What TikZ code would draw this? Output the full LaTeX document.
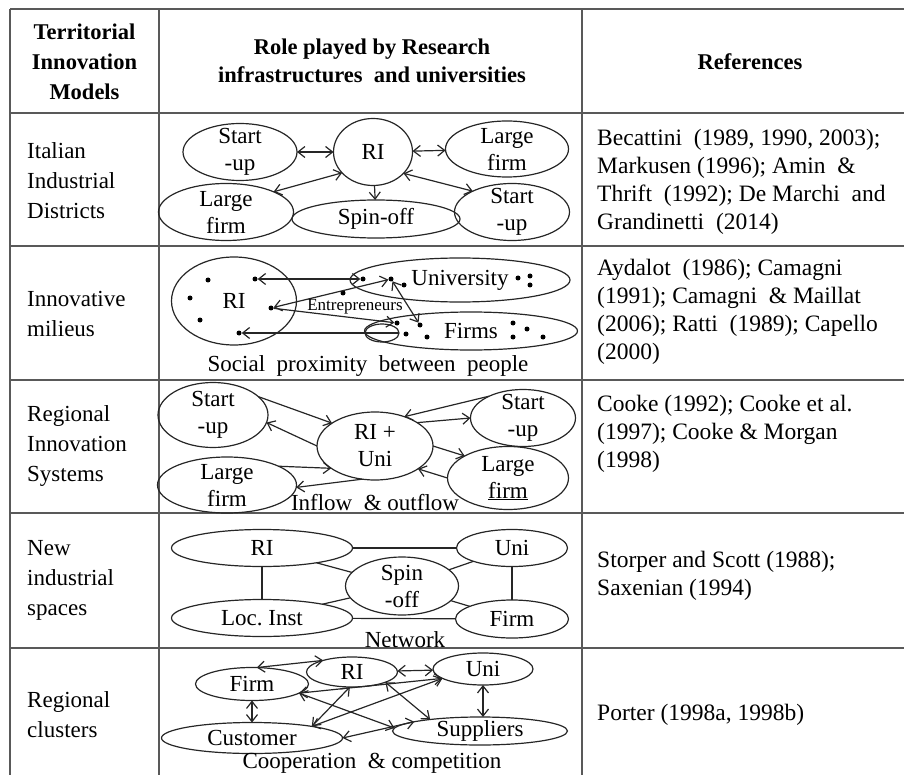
\documentclass[tikz,border=0pt]{standalone}
\usepackage{fontspec}
\setmainfont{Liberation Serif}
\usetikzlibrary{shapes.geometric,arrows.meta}

\tikzset{
  tab/.style={draw=black!65, line width=1.8pt},
  ell/.style={draw=black!85, line width=1.2pt, ellipse, inner sep=0pt, outer sep=0pt},
  lbl/.style={font=\fontsize{23}{27}\selectfont, align=center, inner sep=0pt},
  hdr/.style={font=\bfseries\fontsize{22.5}{30}\selectfont, align=center, inner sep=0pt},
  cell/.style={font=\fontsize{23}{30}\selectfont, align=left, anchor=west, inner sep=0pt},
  refs/.style={font=\fontsize{23.5}{28}\selectfont, align=left, anchor=west, inner sep=0pt},
  dot/.style={circle, fill=black, inner sep=0pt, minimum size=5pt},
  link/.style={draw=black!85, line width=1.2pt},
  >={Straight Barb[length=7pt,width=11pt]}
}
\newcommand\Ell[5]{\node[ell, minimum width=#3pt, minimum height=#4pt,
  label={[lbl]center:{#5}}] (#1) at (#2) {};}

\begin{document}
\begin{tikzpicture}[x=1pt,y=-1pt]
\useasboundingbox (0,0) rectangle (904,775);

% table
\foreach \y in {9,113,246,380,513,648}
  \draw[tab] (10,\y) -- (904,\y);
\foreach \x in {10,159,582}
  \draw[tab] (\x,9) -- (\x,775);

\node[hdr] (h1) at (84.5,62) {Territorial\\Innovation\\Models};
\node[hdr, font=\bfseries\fontsize{22.5}{28}\selectfont] (h2) at (372,61) {Role played by Research\\infrastructures\ \ and universities};
\node[hdr] (h3) at (750,62) {References};

\node[cell] (m1) at (27,181) {Italian\\Industrial\\Districts};
\node[cell] (m2) at (27,314) {Innovative\\milieus};
\node[cell] (m3) at (27,446) {Regional\\Innovation\\Systems};
\node[cell] (m4) at (27,580) {New\\industrial\\spaces};
\node[cell] (m5) at (27,715) {Regional\\clusters};

\node[refs] (r1) at (597,182) {Becattini\ \ (1989, 1990, 2003);\\Markusen (1996); Amin\ \ \&\\Thrift\ \ (1992); De Marchi\ \ and\\Grandinetti\ \ (2014)};
\node[refs] (r2) at (597,312) {Aydalot\ \ (1986); Camagni\\(1991); Camagni\ \ \& Maillat\\(2006); Ratti\ \ (1989); Capello\\(2000)};
\node[refs] (r3) at (597,434) {Cooke (1992); Cooke et al.\\(1997); Cooke \& Morgan\\(1998)};
\node[refs] (r4) at (597,576) {Storper and Scott (1988);\\Saxenian (1994)};
\node[refs] (r5) at (597,715) {Porter (1998a, 1998b)};

% Italian industrial districts
\Ell{st1a}{240,152}{114}{57}{Start\\-up}
\Ell{ri1}{373,152}{79}{67}{RI}
\Ell{lf1a}{507,149}{123}{56}{Large\\firm}
\Ell{lf1b}{226,212}{135}{57}{Large\\firm}
\Ell{sp1}{376,219}{168}{38}{Spin-off}
\Ell{st1b}{512,212}{115}{57}{Start\\-up}
\draw[link,<->] (st1a) -- (ri1);
\draw[link,<->] (ri1) -- (lf1a);
\draw[link,<->] (ri1.214) -- (lf1b.23);
\draw[link,<->] (ri1.-35) -- (st1b.152);
\draw[link,->] (ri1) -- (sp1);

% Innovative milieus
\Ell{ri2}{234,301}{125}{88}{RI}
\Ell{un2}{460,280}{220}{44}{University}
\Ell{fi2}{471,331}{213}{38}{Firms}
\node[ell, minimum width=34pt, minimum height=18pt] (sm2) at (382,333) {};
\foreach \p in {(208,280),(190,298),(200,320),(404,285),(518,278),(530,276),(530,285),
  (406,334),(427,337),(513,323),(513,337),(527,329),(543,337)}
  \node[dot] at \p {};
\node[dot] (rA) at (255,279) {};
\node[dot] (rB) at (271,308) {};
\node[dot] (rC) at (239,333) {};
\node[dot] (uM) at (343,293) {};
\node[dot] (uA) at (363,279) {};
\node[dot] (uB) at (391,279) {};
\node[dot] (fA) at (397,323) {};
\node[dot] (fB) at (420,325) {};
\draw[link,<->] (rA) -- (uA);
\draw[link,<->] (rB) -- (uB);
\draw[link,->] (rB) -- (fA);
\draw[link,<->] (uB) -- (fB);
\draw[link,<-] (rC) -- (sm2.east);
\node[font=\fontsize{17}{17}\selectfont, inner sep=1pt] (ent) at (355,307) {Entrepreneurs};
\node[lbl] (soc) at (368,366) {Social\ \ proximity\ \ between\ \ people};

% Regional innovation systems
\Ell{st3a}{213,415}{110}{65}{Start\\-up}
\Ell{ru3}{375,446}{116}{68}{RI +\\Uni}
\Ell{st3b}{523,418}{105}{57}{Start\\-up}
\Ell{lf3a}{227,485}{139}{56}{Large\\firm}
\Ell{lf3b}{508,478}{121}{63}{Large\\\underline{firm}}
\draw[link,->] (st3a.22) -- (ru3.152);
\draw[link,->] (ru3.180) -- (st3a.-8);
\draw[link,->] (st3b.147) -- (ru3.45);
\draw[link,->] (ru3.29) -- (st3b.180);
\draw[link,->] (ru3.0) -- (lf3b.153);
\draw[link,->] (lf3b.180) -- (ru3.-28);
\draw[link,->] (lf3a.20) -- (ru3.207);
\draw[link,->] (ru3.249) -- (lf3a.-2);
\node[lbl] (flow) at (375,503) {Inflow\ \ \& outflow};

% New industrial spaces
\Ell{ri4}{262,548}{181}{37}{RI}
\Ell{un4}{512,548}{111}{37}{Uni}
\Ell{sp4}{402,586}{113}{58}{Spin\\-off}
\Ell{lo4}{262,618}{181}{37}{Loc.\ Inst}
\Ell{fi4}{512,619}{113}{38}{Firm}
\draw[link] (ri4) -- (un4);
\draw[link] (ri4) -- (lo4);
\draw[link] (un4) -- (fi4);
\draw[link] (lo4) -- (fi4);
\foreach \n in {ri4,un4,lo4,fi4}
  \draw[link] (\n) -- (sp4);
\node[lbl] (net) at (405,640) {Network};

% Regional clusters
\Ell{fi5}{252,684}{113}{33}{Firm}
\Ell{ri5}{352,672}{91}{30}{RI}
\Ell{un5}{483,669}{100}{32}{Uni}
\Ell{cu5}{252,738}{181}{31}{Customer}
\Ell{su5}{480,731}{175}{28}{Suppliers}
\draw[link,<->] (fi5.74) -- (ri5.158);
\draw[link,<->] (ri5) -- (un5);
\draw[link,<->] (fi5) -- (cu5);
\draw[link,<->] (un5.south) -- (un5.south |- su5.north);
\draw[link,<->] (fi5.-11) -- (un5.193);
\draw[link,<->] (fi5.-11) -- (su5.178);
\draw[link,<->] (cu5.11) -- (ri5.262);
\draw[link,<->] (cu5.11) -- (un5.193);
\draw[link,<->] (ri5.-17) -- (su5.167);
\draw[link,<->] (cu5.east) -- (su5.172);
\node[lbl] (coop) at (372,763) {Cooperation\ \ \& competition};
\end{tikzpicture}
\end{document}
